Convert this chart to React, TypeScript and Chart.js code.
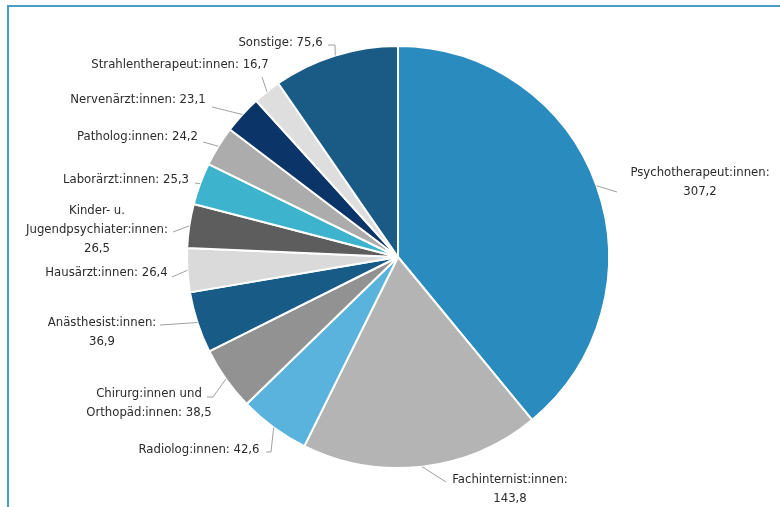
import React, { useEffect, useRef } from "react";
import { Chart, registerables } from "chart.js";

Chart.register(...registerables);

const categories: string[][] = [
  ["Psychotherapeut:innen:", "307,2"],
  ["Fachinternist:innen:", "143,8"],
  ["Radiolog:innen: 42,6"],
  ["Chirurg:innen und", "Orthopäd:innen: 38,5"],
  ["Anästhesist:innen:", "36,9"],
  ["Hausärzt:innen: 26,4"],
  ["Kinder- u.", "Jugendpsychiater:innen:", "26,5"],
  ["Laborärzt:innen: 25,3"],
  ["Patholog:innen: 24,2"],
  ["Nervenärzt:innen: 23,1"],
  ["Strahlentherapeut:innen: 16,7"],
  ["Sonstige: 75,6"],
];

const values: number[] = [307.2, 143.8, 42.6, 38.5, 36.9, 26.4, 26.5, 25.3, 24.2, 23.1, 16.7, 75.6];

const colors: string[] = [
  "#2a8bbf", "#b4b4b4", "#5ab3dd", "#929292", "#185b86", "#dadada",
  "#5d5d5d", "#3db3cd", "#acacac", "#0b3568", "#dedede", "#1a5b86",
];

// label layout relative to pie centre: text block centre, connector end, optional elbow
const labelLayout: { tx: number; ty: number; ax: number; ay: number; ex?: number; ey?: number }[] = [
  { tx: 302, ty: -75, ax: 219, ay: -65 },
  { tx: 112, ty: 232, ax: 48, ay: 225 },
  { tx: -199, ty: 193, ax: -132, ay: 195, ex: -127, ey: 195 },
  { tx: -249, ty: 146, ax: -191, ay: 140, ex: -185, ey: 140 },
  { tx: -296, ty: 75.5, ax: -238, ay: 68 },
  { tx: -291.5, ty: 16, ax: -226, ay: 20 },
  { tx: -301, ty: -27, ax: -225, ay: -25 },
  { tx: -272, ty: -77, ax: -203, ay: -74 },
  { tx: -260.5, ty: -120, ax: -195, ay: -115 },
  { tx: -260, ty: -157, ax: -186, ay: -150 },
  { tx: -218, ty: -192, ax: -136, ay: -180 },
  { tx: -117.5, ty: -214, ax: -70, ay: -212, ex: -63, ey: -212 },
];

const labelPlugin = {
  id: "pieLabels",
  afterDatasetsDraw(chart: any) {
    const ctx = chart.ctx as CanvasRenderingContext2D;
    const meta = chart.getDatasetMeta(0);
    ctx.save();
    ctx.font = "13px 'DejaVu Sans Condensed', 'DejaVu Sans', sans-serif";
    try { (ctx as any).fontStretch = "condensed"; } catch (e) {}
    ctx.textAlign = "center";
    ctx.textBaseline = "middle";
    meta.data.forEach((arc: any, i: number) => {
      const { x, y, startAngle, endAngle, outerRadius } = arc.getProps(
        ["x", "y", "startAngle", "endAngle", "outerRadius"], true);
      const mid = (startAngle + endAngle) / 2;
      const px = x + Math.cos(mid) * outerRadius;
      const py = y + Math.sin(mid) * outerRadius;
      const L = labelLayout[i];
      ctx.strokeStyle = "#a0a0a0";
      ctx.lineWidth = 1;
      ctx.beginPath();
      ctx.moveTo(px, py);
      if (L.ex !== undefined) ctx.lineTo(x + L.ex, y + (L.ey as number));
      ctx.lineTo(x + L.ax, y + L.ay);
      ctx.stroke();
      const lines = categories[i];
      const lh = 19;
      const top = y + L.ty - ((lines.length - 1) * lh) / 2;
      ctx.fillStyle = "#2b2b2b";
      lines.forEach((t, k) => ctx.fillText(t, x + L.tx, top + k * lh));
    });
    ctx.restore();
  },
};

export default function App() {
  const ref = useRef<HTMLCanvasElement>(null);
  useEffect(() => {
    document.body.style.margin = "0";
    const chart = new Chart(ref.current as HTMLCanvasElement, {
      type: "pie",
      data: {
        labels: categories.map((c) => c.join(" ")),
        datasets: [
          {
            data: values,
            backgroundColor: colors,
            borderColor: "#ffffff",
            borderWidth: 2,
            radius: 211,
          } as any,
        ],
      },
      options: {
        responsive: false,
        animation: false,
        layout: { padding: { left: 16, top: 7, right: 0, bottom: 0 } },
        plugins: { legend: { display: false }, tooltip: { enabled: false } },
      },
      plugins: [labelPlugin],
    });
    return () => chart.destroy();
  }, []);
  return (
    <div style={{ position: "relative", width: 780, height: 507, background: "#fff", overflow: "hidden" }}>
      <canvas ref={ref} width={780} height={507} style={{ display: "block" }} />
      <div
        style={{
          position: "absolute",
          left: 7,
          top: 5,
          right: -10,
          bottom: -10,
          borderTop: "2px solid #4a9cc4",
          borderLeft: "2px solid #4a9cc4",
          pointerEvents: "none",
        }}
      />
    </div>
  );
}
